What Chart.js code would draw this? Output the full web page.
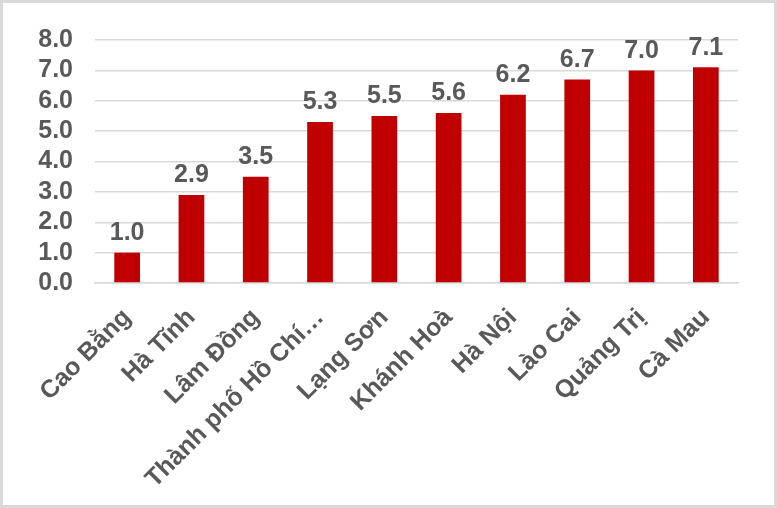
<!DOCTYPE html>
<html>
<head>
<meta charset="utf-8">
<script src="https://cdn.jsdelivr.net/npm/chart.js@4.4.0/dist/chart.umd.min.js"></script>
<style>
  html, body { margin: 0; padding: 0; background: #ffffff; }
  #frame {
    width: 777px; height: 508px; box-sizing: border-box;
    border: 3px solid #d9d9d9; background: #ffffff;
  }
  canvas { display: block; }
</style>
</head>
<body>
<div id="frame"><canvas id="chart" width="771" height="502"></canvas></div>
<script>
// Dữ liệu biểu đồ
const provinces = ["Cao Bằng", "Hà Tĩnh", "Lâm Đồng", "Thành phố Hồ Chí…", "Lạng Sơn",
  "Khánh Hoà", "Hà Nội", "Lào Cai", "Quảng Trị", "Cà Mau"];
const values = [1.0, 2.9, 3.5, 5.3, 5.5, 5.6, 6.2, 6.7, 7.0, 7.1];
const yTicks = [0, 1, 2, 3, 4, 5, 6, 7, 8];

const textColor = "#595959";
const fontFamily = "'Liberation Sans', Arial, sans-serif";

// Nhãn giá trị phía trên cột
const valueLabels = {
  id: "valueLabels",
  afterDatasetsDraw(chart) {
    const ctx = chart.ctx;
    const meta = chart.getDatasetMeta(0);
    ctx.save();
    ctx.fillStyle = textColor;
    ctx.font = "bold 25px " + fontFamily;
    ctx.textAlign = "center";
    ctx.textBaseline = "bottom";
    meta.data.forEach((bar, i) => {
      ctx.fillText(values[i].toFixed(1), bar.x, bar.y - 7);
    });
    ctx.restore();
  },
};

new Chart(document.getElementById("chart"), {
  type: "bar",
  data: {
    labels: provinces,
    datasets: [
      {
        data: values,
        backgroundColor: "#c00000",
        barPercentage: 0.4,
        categoryPercentage: 1.0,
      },
    ],
  },
  options: {
    responsive: false,
    animation: false,
    layout: { padding: { top: 34, right: 36, left: 0, bottom: 0 } },
    plugins: {
      legend: { display: false },
      tooltip: { enabled: false },
    },
    scales: {
      x: {
        grid: { display: false },
        border: { color: "#d9d9d9", width: 1.5 },
        ticks: {
          color: textColor,
          font: { family: fontFamily, size: 25, weight: "bold" },
          minRotation: 45,
          maxRotation: 45,
          autoSkip: false,
          padding: 12,
        },
        afterFit(axis) { axis.height = 222; },
      },
      y: {
        min: 0,
        max: 8,
        afterBuildTicks(axis) { axis.ticks = yTicks.map((v) => ({ value: v })); },
        grid: { color: "#d9d9d9", lineWidth: 1.5, drawTicks: false },
        border: { display: false },
        ticks: {
          color: textColor,
          font: { family: fontFamily, size: 25, weight: "bold" },
          padding: 22,
          autoSkip: false,
          callback: (v) => Number(v).toFixed(1),
        },
        afterFit(axis) { axis.width = 92; },
      },
    },
  },
  plugins: [valueLabels],
});
</script>
</body>
</html>
